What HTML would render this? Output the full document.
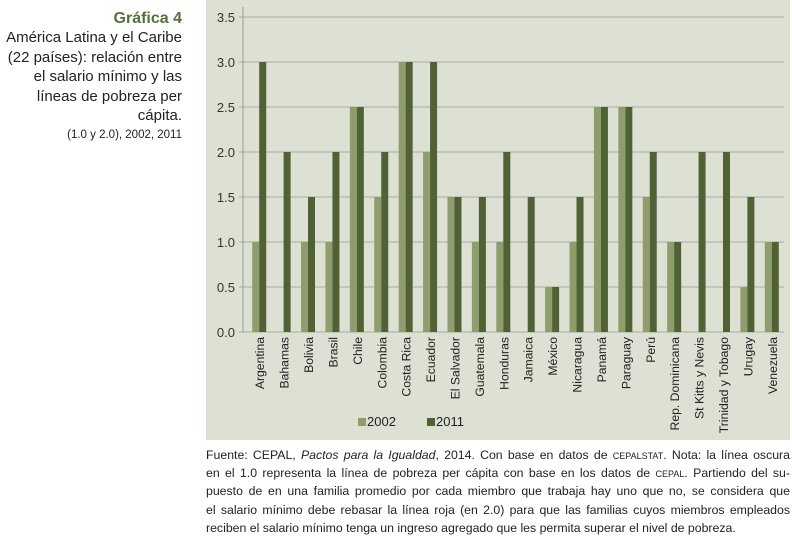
<!DOCTYPE html>
<html><head><meta charset="utf-8"><style>
body{margin:0;width:792px;height:546px;background:#fff;font-family:"Liberation Sans",sans-serif;position:relative;overflow:hidden}
#side{position:absolute;right:610px;top:10px;text-align:right;width:195px;color:#222}
#side .t{color:#55703a;font-weight:bold;font-size:16px;line-height:18px}
#side .s{font-size:15px;line-height:19.5px}
#side .n{font-size:11.5px;line-height:18px}
#foot{position:absolute;left:206px;top:446px;width:584px;font-size:12.3px;line-height:18.2px;color:#222}
#foot div{text-align:justify;text-align-last:justify;white-space:nowrap}
#foot div.l{text-align-last:left}
.sc{font-variant:small-caps}
</style></head><body>
<div id="side">
<div class="t">Gráfica 4</div>
<div class="s">América Latina y el Caribe<br>(22 países): relación entre<br>el salario mínimo y las<br>líneas de pobreza per<br>cápita.</div>
<div class="n">(1.0 y 2.0), 2002, 2011</div>
</div>
<svg id="chart" width="792" height="446" style="position:absolute;left:0;top:0"></svg>
<div id="foot">
<div>Fuente: CEPAL, <i>Pactos para la Igualdad</i>, 2014. Con base en datos de <span class="sc">cepalstat</span>. Nota: la línea oscura</div>
<div>en el 1.0 representa la línea de pobreza per cápita con base en los datos de <span class="sc">cepal</span>. Partiendo del su-</div>
<div>puesto de en una familia promedio por cada miembro que trabaja hay uno que no, se considera que</div>
<div>el salario mínimo debe rebasar la línea roja (en 2.0) para que las familias cuyos miembros empleados</div>
<div class="l">reciben el salario mínimo tenga un ingreso agregado que les permita superar el nivel de pobreza.</div>
</div>
<script>
const categories=["Argentina","Bahamas","Bolivia","Brasil","Chile","Colombia","Costa Rica","Ecuador","El Salvador","Guatemala","Honduras","Jamaica","México","Nicaragua","Panamá","Paraguay","Perú","Rep. Dominicana","St Kitts y Nevis","Trinidad y Tobago","Urugay","Venezuela"];
const values2002=[1,0,1,1,2.5,1.5,3,2,1.5,1,1,0,0.5,1,2.5,2.5,1.5,1,0,0,0.5,1];
const values2011=[3,2,1.5,2,2.5,2,3,3,1.5,1.5,2,1.5,0.5,1.5,2.5,2.5,2,1,2,2,1.5,1];
const yTicks=[0,0.5,1,1.5,2,2.5,3,3.5];
const seriesNames=["2002","2011"];
const NS="http://www.w3.org/2000/svg";
const svg=document.getElementById('chart');
function mk(t,a,p){const e=document.createElementNS(NS,t);for(const k in a)e.setAttribute(k,a[k]);(p||svg).appendChild(e);return e;}
const X0=247,X1=784,Y0=332,Ytop=17,YMAX=3.5;
const y=v=>Y0-(v/YMAX)*(Y0-Ytop);
const bw=(X1-X0)/categories.length;
const x=i=>X0+i*bw;
const bg=mk('rect',{x:206,y:0,width:584,height:440,fill:'#dde1d3'});


yTicks.forEach(t=>{
 const l=mk('line',{x1:239,x2:X1,y1:y(t),y2:y(t),stroke:'#a9aba1','stroke-width':1});
 
 
 const tx=mk('text',{x:235,y:y(t)+5,'text-anchor':'end','font-size':13,fill:'#333'});
 tx.textContent=t.toFixed(1);
 
 
});
const ax=mk('line',{x1:243,x2:243,y1:Ytop-10,y2:Y0,stroke:'#999','stroke-width':1});


const colors=['#8f9d6c','#4f6135'];
categories.forEach((c,i)=>{
 const cx=x(i)+bw/2;
 [values2002,values2011].forEach((vals,s)=>{
  const v=vals[i];
  if(v>0){const r=mk('rect',{x:cx-7+s*7,y:y(v),width:7,height:Y0-y(v),fill:colors[s]});
  
  }
 });
 const tx=mk('text',{transform:`translate(${cx+5},${Y0+5}) rotate(-90)`,'text-anchor':'end','font-size':12.2,fill:'#222'});
 tx.textContent=c;
 
 
});
seriesNames.forEach((n,s)=>{
 const lx=358+s*69;
 const r=mk('rect',{x:lx,y:418,width:8,height:8,fill:colors[s]});
 
 
 const t=mk('text',{x:lx+9,y:426,'font-size':13,fill:'#222'});
 t.textContent=n;
 
 
});
</script>
</body></html>
